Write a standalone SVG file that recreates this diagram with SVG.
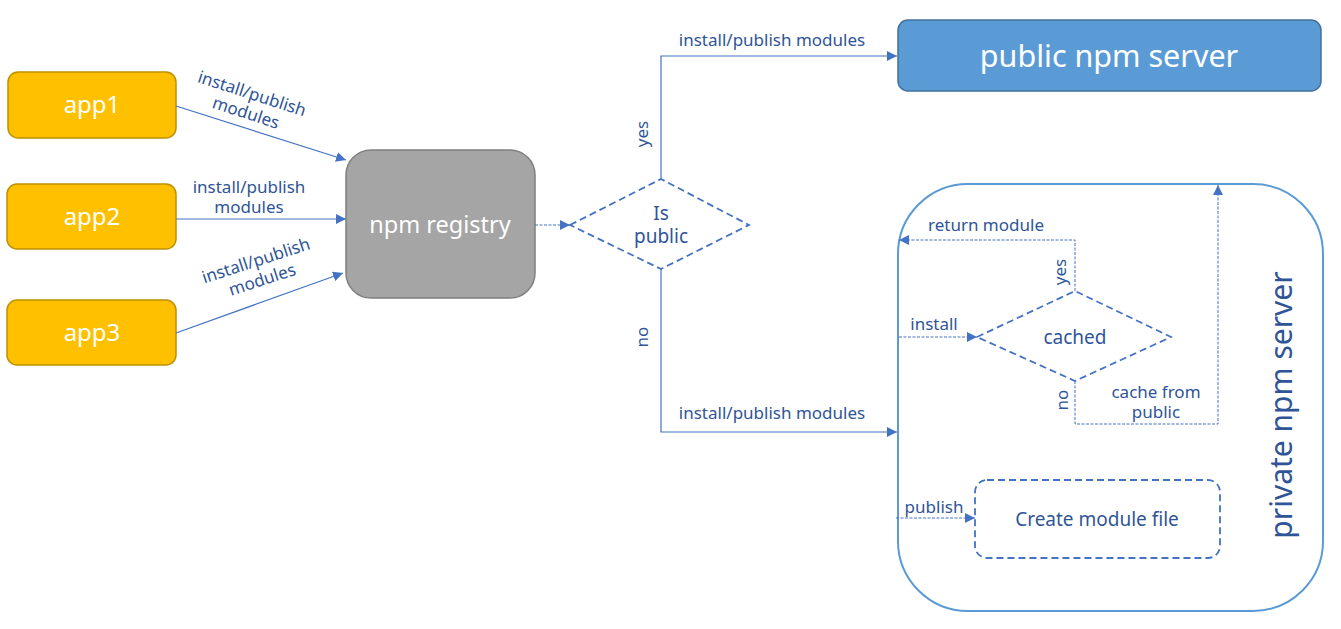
<svg xmlns="http://www.w3.org/2000/svg" width="1341" height="629" viewBox="0 0 1341 629">
<defs>
<marker id="ah" viewBox="0 0 10 10" refX="10" refY="5" markerWidth="10" markerHeight="10" markerUnits="userSpaceOnUse" orient="auto">
<path d="M0,0 L10,5 L0,10 z" fill="#4472C4"/>
</marker>
<style>
.lbl{font-family:"Noto Sans","Open Sans",sans-serif;font-size:17px;fill:#2F5597;text-anchor:middle}
.big{font-size:19px}
.wt{font-family:"Noto Sans","Open Sans",sans-serif;fill:#FFFFFF;text-anchor:middle}
.app{fill:#FFC000;stroke:#BF9000;stroke-width:1.5}
.ln{fill:none;stroke:#4472C4;stroke-width:1.2}
.dot{fill:none;stroke:#4472C4;stroke-width:1;stroke-dasharray:3 1.5}
.dash{fill:#FFFFFF;stroke:#4472C4;stroke-width:1.8;stroke-dasharray:7 4}
</style>
</defs>
<rect width="1341" height="629" fill="#FFFFFF"/>

<g id="app1"><rect class="app" x="8" y="72" width="168" height="66" rx="10"/><text class="wt" x="92" y="113" font-size="24">app1</text></g>
<g id="app2"><rect class="app" x="7" y="184" width="169" height="65" rx="10"/><text class="wt" x="92" y="225" font-size="24">app2</text></g>
<g id="app3"><rect class="app" x="7" y="300" width="169" height="65" rx="10"/><text class="wt" x="92" y="341" font-size="24">app3</text></g>

<g id="registry"><rect x="346" y="150" width="189" height="148" rx="25" fill="#A5A5A5" stroke="#7F7F7F" stroke-width="1.5"/><text class="wt" x="440" y="233" font-size="23.5">npm registry</text></g>

<g id="ispublic"><polygon class="dash" points="570,225 661,179 749,225 661,269"/><text class="lbl big" x="661" y="220">Is</text><text class="lbl big" x="661" y="243">public</text></g>

<g id="public-server"><rect x="898" y="20" width="423" height="71" rx="10" fill="#5B9BD5" stroke="#41719C" stroke-width="1.5"/><text class="wt" x="1109" y="67" font-size="30.5">public npm server</text></g>

<g id="private-server"><rect x="898" y="184" width="425" height="427" rx="70" fill="#FFFFFF" stroke="#5B9BD5" stroke-width="2"/><text x="1292" y="405" transform="rotate(-90 1292 405)" font-family="Noto Sans,Open Sans,sans-serif" font-size="30" fill="#2F5597" text-anchor="middle">private npm server</text></g>

<g id="cached"><polygon class="dash" points="977,337 1075,291 1171,337 1075,381"/><text class="lbl big" x="1075" y="344">cached</text></g>

<g id="create"><rect class="dash" x="975" y="480" width="245" height="78" rx="12"/><text class="lbl big" x="1097" y="526">Create module file</text></g>

<g id="connectors">
<line class="ln" x1="176" y1="106" x2="346" y2="160" marker-end="url(#ah)"/>
<line class="ln" x1="176" y1="219" x2="346" y2="219" marker-end="url(#ah)"/>
<line class="ln" x1="176" y1="333" x2="343" y2="273" marker-end="url(#ah)"/>
<line class="dot" x1="535" y1="225" x2="570" y2="225" marker-end="url(#ah)"/>
<polyline class="ln" points="661,179 661,56 897,56" marker-end="url(#ah)"/>
<polyline class="ln" points="661,269 661,432 897,432" marker-end="url(#ah)"/>
<polyline class="dot" points="1075,291 1075,240 899,240" marker-end="url(#ah)"/>
<line class="dot" x1="899" y1="337" x2="977" y2="337" marker-end="url(#ah)"/>
<polyline class="dot" points="1075,381 1075,424 1218,424 1218,185" marker-end="url(#ah)"/>
<line class="dot" x1="896" y1="518" x2="975" y2="518" marker-end="url(#ah)"/>
</g>

<g id="labels">
<text class="lbl" transform="translate(249,103) rotate(18)"><tspan x="0" y="-4">install/publish</tspan><tspan x="0" y="16">modules</tspan></text>
<text class="lbl" x="249" y="193">install/publish</text>
<text class="lbl" x="249" y="213">modules</text>
<text class="lbl" transform="translate(259,270) rotate(-18)"><tspan x="0" y="-4">install/publish</tspan><tspan x="0" y="16">modules</tspan></text>
<text class="lbl" x="772" y="46">install/publish modules</text>
<text class="lbl" x="772" y="419">install/publish modules</text>
<text class="lbl" font-size="22" transform="translate(648,134) rotate(-90)">yes</text>
<text class="lbl" font-size="22" transform="translate(648,337) rotate(-90)">no</text>
<text class="lbl" x="986" y="231">return module</text>
<text class="lbl" font-size="16" transform="translate(1066,272) rotate(-90)">yes</text>
<text class="lbl" x="934" y="330">install</text>
<text class="lbl" font-size="16" transform="translate(1068,400) rotate(-90)">no</text>
<text class="lbl" x="1156" y="398">cache from</text>
<text class="lbl" x="1156" y="418">public</text>
<text class="lbl" x="934" y="513">publish</text>
</g>
</svg>
